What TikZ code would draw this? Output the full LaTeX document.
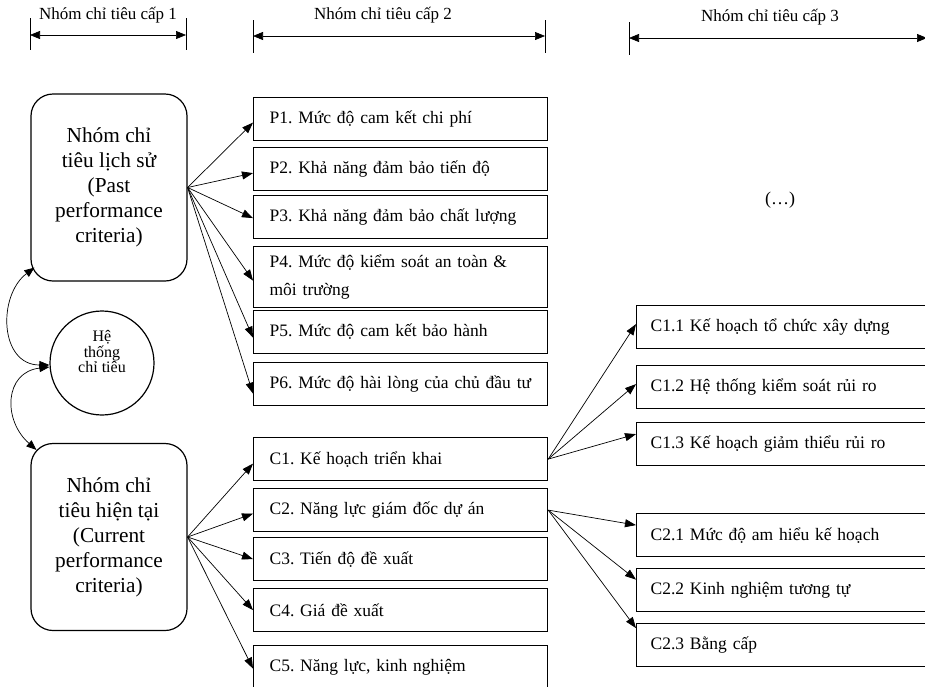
\documentclass[tikz,border=0pt]{standalone}
\usepackage{fontspec}
\setmainfont{Liberation Serif}
\usetikzlibrary{arrows.meta}
\frenchspacing

\tikzset{every picture/.style={line width=0.75pt}}
\tikzset{
  grpbox/.style={draw, line width=1.2pt, rounded corners=22pt, minimum width=156pt, minimum height=187pt, align=center, font=\fontsize{21.3}{25}\selectfont},
  hubnode/.style={draw, circle, line width=1.2pt, minimum size=104pt, inner sep=0pt},
  hubtext/.style={inner sep=0.75pt, align=center, font=\fontsize{16}{15.5}\selectfont},
  lvtwo/.style={draw, line width=1.2pt, anchor=north west, minimum height=43pt, text width=262pt, inner xsep=16pt, align=left, font=\fontsize{17.5}{28}\selectfont},
  lvthree/.style={lvtwo, text width=286pt, inner xsep=14pt},
  fanarrow/.style={-{Triangle[length=11pt,width=8pt]}, line width=0.7pt},
  dimline/.style={{Triangle[length=10pt,width=8pt]}-{Triangle[length=10pt,width=8pt]}, line width=0.7pt},
  hdr/.style={inner sep=0.75pt, font=\fontsize{17}{19}\selectfont},
}

\begin{document}
\begin{tikzpicture}[x=1pt,y=1pt,yscale=-1,xscale=1]
\useasboundingbox (0,0) rectangle (925,686);

% Header lines
\coordinate (h1l) at (30,35);
\coordinate (h1r) at (186,35);
\coordinate (h2l) at (253,36);
\coordinate (h2r) at (545,36);
\coordinate (h3l) at (629,38);
\coordinate (h3r) at (927,38);
\draw [dimline] (h1l) -- (h1r) ;
\draw [dimline] (h2l) -- (h2r) ;
\draw [dimline] (h3l) -- (h3r) ;
\draw ([yshift=-17pt]h1l) -- ([yshift=15pt]h1l) ;
\draw ([yshift=-17pt]h1r) -- ([yshift=15pt]h1r) ;
\draw ([yshift=-16pt]h2l) -- ([yshift=17pt]h2l) ;
\draw ([yshift=-16pt]h2r) -- ([yshift=17pt]h2r) ;
\draw ([yshift=-16pt]h3l) -- ([yshift=17pt]h3l) ;
% Text Node
\node [hdr] (t1) at (108,15) {Nhóm chỉ tiêu cấp 1};
% Text Node
\node [hdr] (t2) at (383,15) {Nhóm chỉ tiêu cấp 2};
% Text Node
\node [hdr] (t3) at (770,17) {Nhóm chỉ tiêu cấp 3};

% Level 1
\node [grpbox] (past) at (109,187.5) {Nhóm chỉ\\tiêu lịch sử\\(Past\\performance\\criteria)};
\node [hubnode] (hub) at (102,363) {};
\node [hubtext] (hubl) at (102,352) {Hệ\\thống\\chỉ tiêu};
\node [grpbox] (cur) at (109,537) {Nhóm chỉ\\tiêu hiện tại\\(Current\\performance\\criteria)};

% Level 2
\node [lvtwo] (P1) at (253,97) {P1. Mức độ cam kết chi phí};
\node [lvtwo] (P2) at (253,147) {P2. Khả năng đảm bảo tiến độ};
\node [lvtwo] (P3) at (253,195) {P3. Khả năng đảm bảo chất lượng};
\node [lvtwo, minimum height=61pt] (P4) at (253,246) {P4. Mức độ kiểm soát an toàn \&\\môi trường};
\node [lvtwo] (P5) at (253,310) {P5. Mức độ cam kết bảo hành};
\node [lvtwo] (P6) at (253,362) {P6. Mức độ hài lòng của chủ đầu tư};
\node [lvtwo] (C1) at (253,437) {C1. Kế hoạch triển khai};
\node [lvtwo] (C2) at (253,488) {C2. Năng lực giám đốc dự án};
\node [lvtwo] (C3) at (253,537) {C3. Tiến độ đề xuất};
\node [lvtwo] (C4) at (253,588) {C4. Giá đề xuất};
\node [lvtwo] (C5) at (253,645) {C5. Năng lực, kinh nghiệm};

% Level 3
\node [lvthree] (C11) at (636,305) {C1.1 Kế hoạch tổ chức xây dựng};
\node [lvthree] (C12) at (636,365) {C1.2 Hệ thống kiểm soát rủi ro};
\node [lvthree] (C13) at (636,422) {C1.3 Kế hoạch giảm thiểu rủi ro};
\node [lvthree] (C21) at (636,513) {C2.1 Mức độ am hiểu kế hoạch};
\node [lvthree] (C22) at (636,568) {C2.2 Kinh nghiệm tương tự};
\node [lvthree] (C23) at (636,623) {C2.3 Bằng cấp};
% Text Node
\node [font=\fontsize{18}{20}\selectfont] (more) at (780,200) {(…)};

% Curved links
\draw [dimline] ([xshift=4pt,yshift=-14pt]past.south west) .. controls +(-37,28) and +(-50,0) .. ([yshift=2pt]hub.west) ;
\draw [dimline] ([yshift=4pt]hub.west) .. controls +(-45,5) and +(-34,-30) .. ([xshift=6pt,yshift=7pt]cur.north west) ;

%Straight Lines
\draw [fanarrow] (past.east) -- ([yshift=3.5pt]P1.west) ;
\draw [fanarrow] (past.east) -- ([yshift=4pt]P2.west) ;
\draw [fanarrow] (past.east) -- ([yshift=1pt]P3.west) ;
\draw [fanarrow] (past.east) -- ([yshift=3.5pt]P4.west) ;
\draw [fanarrow] (past.east) -- ([yshift=5.5pt]P5.west) ;
\draw [fanarrow] (past.east) -- ([yshift=9.5pt]P6.west) ;
%Straight Lines
\draw [fanarrow] (cur.east) -- ([yshift=4.5pt]C1.west) ;
\draw [fanarrow] (cur.east) -- ([yshift=3.5pt]C2.west) ;
\draw [fanarrow] (cur.east) -- (C3.west) ;
\draw [fanarrow] (cur.east) -- (C4.west) ;
\draw [fanarrow] (cur.east) -- ([yshift=1.5pt]C5.west) ;
%Straight Lines
\draw [fanarrow] (C1.east) -- ([yshift=-3pt]C11.west) ;
\draw [fanarrow] (C1.east) -- ([yshift=-3pt]C12.west) ;
\draw [fanarrow] (C1.east) -- ([yshift=-10pt]C13.west) ;
%Straight Lines
\draw [fanarrow] (C2.east) -- ([yshift=-10pt]C21.west) ;
\draw [fanarrow] (C2.east) -- ([yshift=-10.5pt]C22.west) ;
\draw [fanarrow] (C2.east) -- ([yshift=-17pt]C23.west) ;

\end{tikzpicture}
\end{document}
